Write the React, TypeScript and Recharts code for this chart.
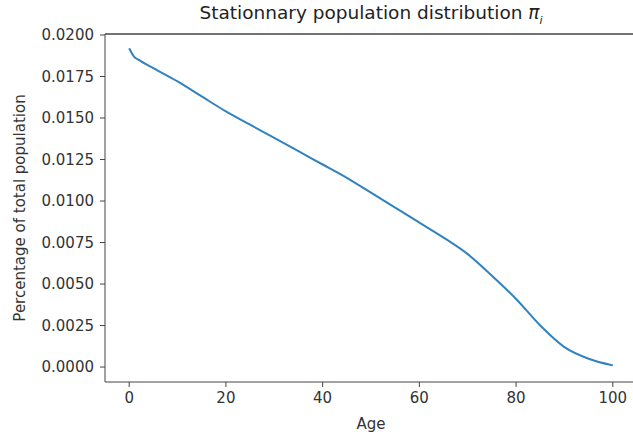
import React from 'react';
import { LineChart, Line, XAxis, YAxis, Label, ReferenceLine } from 'recharts';

const ages = [0, 1, 2, 5, 10, 15, 20, 25, 30, 35, 40, 45, 50, 55, 60, 65, 70, 75, 80, 85, 90, 95, 100];
const shares = [
    0.0192, 0.0187, 0.0185, 0.0180, 0.0172, 0.0163, 0.0154, 0.0146, 0.0138, 0.0130, 0.0122, 0.0114,
    0.0105, 0.0096, 0.0087, 0.0078, 0.0068, 0.0055, 0.0041, 0.0025, 0.0012, 0.0005, 0.0001,
];
const xTicks = [0, 20, 40, 60, 80, 100];
const yTicks = [0, 0.0025, 0.005, 0.0075, 0.01, 0.0125, 0.015, 0.0175, 0.02];

const font = '"DejaVu Sans", sans-serif';
const axisColor = '#444';
const yMin = -0.0009;
const yMax = 0.02006;

const App: React.FC = () => {
    const data = ages.map((age, i) => ({ age, share: shares[i] }));

    return (
        <div style={{ position: 'absolute', left: 0, top: 0, width: 633, height: 437, overflow: 'hidden', background: '#fff', fontFamily: font }}>
            <div style={{ position: 'absolute', left: 105, width: 532, top: 2, textAlign: 'center', fontSize: 18.5, color: '#222', whiteSpace: 'nowrap' }}>
                Stationnary population distribution <i>π</i><sub style={{ fontSize: 11, fontStyle: 'italic' }}>i</sub>
            </div>
            <LineChart width={660} height={437} data={data} margin={{ top: 34, right: 23, bottom: 0, left: 0 }}>
                <XAxis
                    dataKey="age"
                    type="number"
                    domain={[-5, 105]}
                    ticks={xTicks}
                    height={55}
                    tickSize={5}
                    tickMargin={5}
                    stroke={axisColor}
                    tick={{ fill: '#333', fontSize: 15, fontFamily: font }}
                >
                    <Label value="Age" position="insideBottom" offset={8} fill="#333" fontSize={15} fontFamily={font} />
                </XAxis>
                <YAxis
                    type="number"
                    domain={[yMin, yMax]}
                    ticks={yTicks}
                    width={105}
                    tickSize={5}
                    tickMargin={6}
                    stroke={axisColor}
                    tickFormatter={(v: number) => v.toFixed(4)}
                    tick={{ fill: '#333', fontSize: 15, fontFamily: font }}
                >
                    <Label
                        value="Percentage of total population"
                        angle={-90}
                        position="insideLeft"
                        offset={20}
                        fill="#333"
                        fontSize={15}
                        fontFamily={font}
                        style={{ textAnchor: 'middle' }}
                    />
                </YAxis>
                <ReferenceLine y={yMax} stroke={axisColor} strokeWidth={1.5} />
                <ReferenceLine x={105} stroke={axisColor} strokeWidth={1.5} />
                <Line type="monotone" dataKey="share" stroke="#3182c0" strokeWidth={2} dot={false} isAnimationActive={false} />
            </LineChart>
        </div>
    );
};

export default App;
